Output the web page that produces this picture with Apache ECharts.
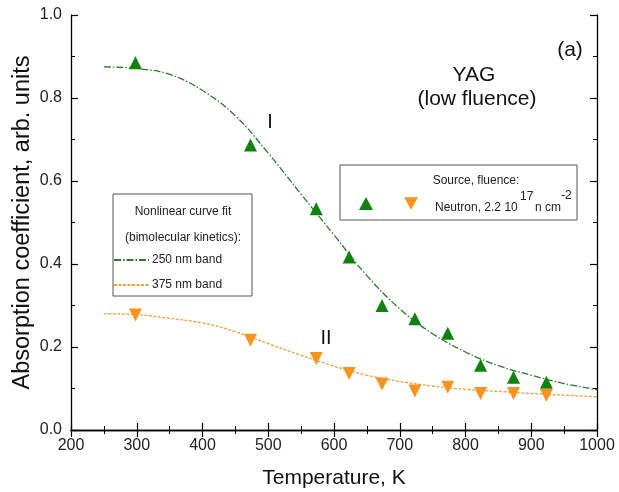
<!DOCTYPE html>
<html><head><meta charset="utf-8">
<script src="https://cdn.jsdelivr.net/npm/echarts@6/dist/echarts.min.js"></script>
<style>html,body{margin:0;padding:0;background:#fff}#c{width:619px;height:492px}</style>
</head><body><div id="c"></div>
<script>
// Measured data points (temperature, K)
var temps = [298, 473, 573, 623, 673, 723, 773, 823, 873, 923];
var band250 = [0.885, 0.687, 0.533, 0.417, 0.300, 0.268, 0.233, 0.156, 0.127, 0.115];
var band375 = [0.277, 0.216, 0.172, 0.136, 0.111, 0.094, 0.103, 0.088, 0.088, 0.084];
// Fit curves
var fitT = [250, 300, 350, 400, 450, 500, 550, 600, 650, 700, 750, 800, 850, 900, 950, 1000];
var fit250 = [0.875, 0.871, 0.857, 0.818, 0.757, 0.667, 0.568, 0.470, 0.372, 0.292, 0.232, 0.188, 0.155, 0.132, 0.112, 0.097];
var fit375 = [0.280, 0.278, 0.269, 0.258, 0.237, 0.208, 0.180, 0.154, 0.132, 0.117, 0.106, 0.098, 0.093, 0.088, 0.084, 0.080];

function pairs(xs, ys) { return xs.map(function (x, i) { return [x, ys[i]]; }); }

var FONT = '"Liberation Sans", Arial, sans-serif';
var GREEN = '#0f820f', ORANGE = '#f7931e';
var GREEN_LINE = '#2a7a2a', ORANGE_LINE = '#eea040';

function axisBase() {
  return {
    type: 'value',
    axisLine: { show: true, lineStyle: { color: '#000', width: 1.3 } },
    axisTick: { show: true, inside: true, length: 7, lineStyle: { color: '#000', width: 1.2 } },
    minorTick: { show: true, splitNumber: 2, length: 4, lineStyle: { color: '#000', width: 1 } },
    splitLine: { show: false },
    minorSplitLine: { show: false }
  };
}

var chart = echarts.init(document.getElementById('c'), null, { renderer: 'canvas' });
chart.setOption({
  animation: false,
  backgroundColor: '#fff',
  grid: { left: 71, right: 22, top: 15, bottom: 62, containLabel: false, outerBoundsMode: 'none' },
  xAxis: [
    Object.assign(axisBase(), {
      min: 200, max: 1000, interval: 100, position: 'bottom',
      name: 'Temperature, K', nameLocation: 'middle', nameGap: 38, nameMoveOverlap: false,
      nameTextStyle: { fontFamily: FONT, fontSize: 21, color: '#111' },
      axisLabel: { fontFamily: FONT, fontSize: 16, color: '#222', margin: 8,
        formatter: function (v) { return String(v); } }
    }),
    Object.assign(axisBase(), {
      min: 200, max: 1000, interval: 100, position: 'top',
      axisLabel: { show: false }
    })
  ],
  yAxis: [
    Object.assign(axisBase(), {
      min: 0, max: 1, interval: 0.2, position: 'left',
      name: 'Absorption coefficient, arb. units', nameLocation: 'middle', nameGap: 36, nameMoveOverlap: false,
      nameTextStyle: { fontFamily: FONT, fontSize: 23.5, color: '#111' },
      axisLabel: { fontFamily: FONT, fontSize: 16, color: '#222', margin: 9,
        formatter: function (v) { return v.toFixed(1); } }
    }),
    Object.assign(axisBase(), {
      min: 0, max: 1, interval: 0.2, position: 'right',
      axisLabel: { show: false }
    })
  ],
  legend: [
    {
      data: ['250 nm band', '375 nm band'],
      orient: 'vertical', left: 113, top: 254, padding: 0, itemWidth: 35, itemHeight: 12, itemGap: 13,
      itemStyle: { opacity: 0 },
      textStyle: { fontFamily: FONT, fontSize: 12, color: '#222', padding: [0, 0, 0, -2] }
    },
    {
      data: [
        { name: 'I', icon: 'triangle' },
        { name: 'II', icon: 'path://M0,0L10,0L5,9Z' }
      ],
      orient: 'horizontal', left: 359, top: 197, padding: 0, itemWidth: 14, itemHeight: 13, itemGap: 31,
      formatter: function () { return ''; },
      textStyle: { fontFamily: FONT, fontSize: 12 }
    }
  ],
  graphic: [
    { type: 'rect', shape: { x: 340, y: 165, width: 237, height: 55 }, z: 0,
      style: { fill: '#fff', stroke: '#555', lineWidth: 1 } },
    { type: 'rect', shape: { x: 113, y: 194, width: 139, height: 102 }, z: 0,
      style: { fill: '#fff', stroke: '#555', lineWidth: 1 } },
    { type: 'text', x: 476, y: 181, z: 10, style: { text: 'Source, fluence:', font: '12px ' + FONT, fill: '#222', textAlign: 'center', textVerticalAlign: 'middle' } },
    { type: 'text', x: 435, y: 208, z: 10, style: { text: 'Neutron, 2.2 10', font: '12px ' + FONT, fill: '#222', textAlign: 'left', textVerticalAlign: 'middle' } },
    { type: 'text', x: 520, y: 197, z: 10, style: { text: '17', font: '12px ' + FONT, fill: '#222', textAlign: 'left', textVerticalAlign: 'middle' } },
    { type: 'text', x: 535, y: 208, z: 10, style: { text: 'n cm', font: '12px ' + FONT, fill: '#222', textAlign: 'left', textVerticalAlign: 'middle' } },
    { type: 'text', x: 561, y: 196, z: 10, style: { text: '-2', font: '12px ' + FONT, fill: '#222', textAlign: 'left', textVerticalAlign: 'middle' } },
    { type: 'text', x: 183, y: 212, z: 10, style: { text: 'Nonlinear curve fit', font: '12px ' + FONT, fill: '#222', textAlign: 'center', textVerticalAlign: 'middle' } },
    { type: 'text', x: 183, y: 238, z: 10, style: { text: '(bimolecular kinetics):', font: '12px ' + FONT, fill: '#222', textAlign: 'center', textVerticalAlign: 'middle' } },
    { type: 'text', x: 570, y: 50, z: 10, style: { text: '(a)', font: '21px ' + FONT, fill: '#111', textAlign: 'center', textVerticalAlign: 'middle' } },
    { type: 'text', x: 474, y: 75, z: 10, style: { text: 'YAG', font: '21px ' + FONT, fill: '#111', textAlign: 'center', textVerticalAlign: 'middle' } },
    { type: 'text', x: 477, y: 99, z: 10, style: { text: '(low fluence)', font: '21px ' + FONT, fill: '#111', textAlign: 'center', textVerticalAlign: 'middle' } },
    { type: 'text', x: 270, y: 122, z: 10, style: { text: 'I', font: '20px ' + FONT, fill: '#111', textAlign: 'center', textVerticalAlign: 'middle' } },
    { type: 'text', x: 326, y: 338, z: 10, style: { text: 'II', font: '20px ' + FONT, fill: '#111', textAlign: 'center', textVerticalAlign: 'middle' } }
  ],
  series: [
    { name: '250 nm band', type: 'line', smooth: 0.4, symbol: 'none', data: pairs(fitT, fit250), z: 3,
      lineStyle: { color: GREEN_LINE, width: 1.3, type: [7, 2, 1.5, 2] }, itemStyle: { color: GREEN_LINE } },
    { name: '375 nm band', type: 'line', smooth: 0.4, symbol: 'none', data: pairs(fitT, fit375), z: 3,
      lineStyle: { color: ORANGE_LINE, width: 1.3, type: [3, 1.5] }, itemStyle: { color: ORANGE_LINE } },
    { name: 'I', type: 'scatter', symbol: 'triangle', symbolSize: 13, data: pairs(temps, band250), z: 4,
      itemStyle: { color: GREEN, opacity: 1 } },
    { name: 'II', type: 'scatter', symbol: 'triangle', symbolRotate: 180, symbolSize: 13, data: pairs(temps, band375), z: 4,
      itemStyle: { color: ORANGE, opacity: 1 } }
  ]
});
</script></body></html>
